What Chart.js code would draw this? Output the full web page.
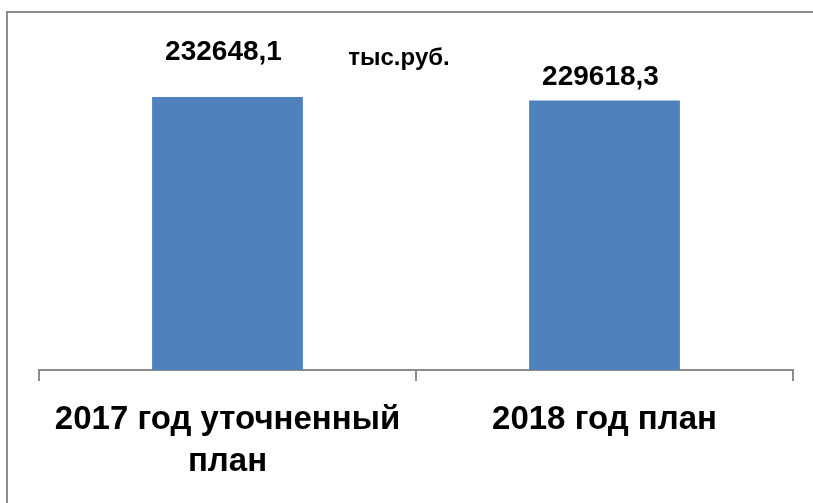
<!DOCTYPE html>
<html>
<head>
<meta charset="utf-8">
<script src="https://cdn.jsdelivr.net/npm/chart.js@4"></script>
<style>
  html, body { margin: 0; padding: 0; background: #fff; overflow: hidden; }
  #wrap { position: relative; width: 813px; height: 503px; overflow: hidden; }
  #frame { position: absolute; left: 6px; top: 11px; width: 900px; height: 600px; border: 2px solid #8d8d8d; box-sizing: border-box; pointer-events: none; }
  canvas { position: absolute; left: 0; top: 0; }
</style>
</head>
<body>
<div id="wrap">
  <canvas id="c" width="813" height="503"></canvas>
  <div id="frame"></div>
</div>
<script>
const categories = [['2017 год уточненный', 'план'], ['2018 год план']];
const values = [232648.1, 229618.3];
const valueLabels = ['232648,1', '229618,3'];
const unitLabel = 'тыс.руб.';

const FONT = "'Liberation Sans', Arial, sans-serif";

const labelPlugin = {
  id: 'valueLabels',
  afterDatasetsDraw(chart) {
    const ctx = chart.ctx;
    const meta = chart.getDatasetMeta(0);
    const gaps = [37, 16];
    ctx.save();
    ctx.fillStyle = '#000';
    ctx.textAlign = 'center';
    ctx.textBaseline = 'alphabetic';
    ctx.font = "bold 28px " + FONT;
    meta.data.forEach((bar, i) => {
      ctx.fillText(valueLabels[i], bar.x - 4, bar.y - gaps[i]);
    });
    ctx.font = "bold 24px " + FONT;
    ctx.fillText(unitLabel, 399, 65);
    ctx.restore();
  }
};

new Chart(document.getElementById('c'), {
  type: 'bar',
  data: {
    labels: categories,
    datasets: [{
      data: values,
      backgroundColor: '#4F81BD',
      borderWidth: 0,
      barPercentage: 1,
      categoryPercentage: 0.4
    }]
  },
  options: {
    responsive: false,
    animation: false,
    events: [],
    layout: { padding: { top: 18, left: 39, right: 20, bottom: 0 } },
    plugins: { legend: { display: false }, tooltip: { enabled: false }, title: { display: false } },
    scales: {
      y: { display: false, min: 0, max: 300000 },
      x: {
        afterFit(scale) { scale.height = 133; },
        grid: { drawOnChartArea: false, drawTicks: true, tickLength: 11, color: '#8d8d8d', lineWidth: 2, offset: true },
        border: { display: true, color: '#8d8d8d', width: 2 },
        ticks: {
          color: '#000',
          padding: 17,
          maxRotation: 0,
          autoSkip: false,
          font: { family: FONT, size: 33, weight: 'bold', lineHeight: 1.3 }
        }
      }
    }
  },
  plugins: [labelPlugin]
});
</script>
</body>
</html>
